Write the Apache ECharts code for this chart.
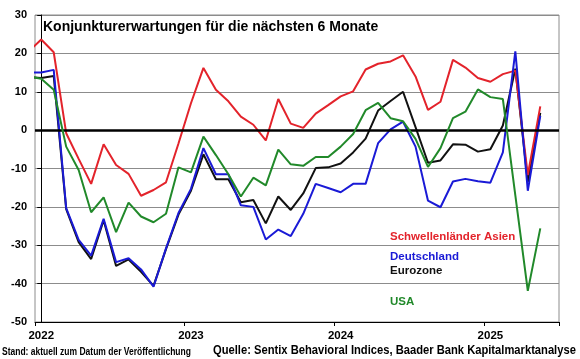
<!DOCTYPE html>
<html>
<head>
<meta charset="utf-8">
<script src="https://cdn.jsdelivr.net/npm/echarts@6/dist/echarts.min.js"></script>
<style>
html,body{margin:0;padding:0;background:#fff;}
#chart{width:580px;height:359px;}
</style>
</head>
<body>
<div id="chart"></div>
<script>
// Survey months of the data (first one lies before the axis start and is clipped)
const months = [
  '2021-12',
  '2022-01','2022-02','2022-03','2022-04','2022-05','2022-06','2022-07','2022-08','2022-09','2022-10','2022-11','2022-12',
  '2023-01','2023-02','2023-03','2023-04','2023-05','2023-06','2023-07','2023-08','2023-09','2023-10','2023-11','2023-12',
  '2024-01','2024-02','2024-03','2024-04','2024-05','2024-06','2024-07','2024-08','2024-09','2024-10','2024-11','2024-12',
  '2025-01','2025-02','2025-03','2025-04','2025-05'
];
// Month slots shown on the axis
const axisMonths = [
  '2022-01','2022-02','2022-03','2022-04','2022-05','2022-06','2022-07','2022-08','2022-09','2022-10','2022-11','2022-12',
  '2023-01','2023-02','2023-03','2023-04','2023-05','2023-06','2023-07','2023-08','2023-09','2023-10','2023-11','2023-12',
  '2024-01','2024-02','2024-03','2024-04','2024-05','2024-06','2024-07','2024-08','2024-09','2024-10','2024-11','2024-12',
  '2025-01','2025-02','2025-03','2025-04','2025-05','2025-06'
];
const yTicks = [-50,-40,-30,-20,-10,0,10,20,30];

const schwellenlaenderAsien = [20.5,
  23.6,20.3,-0.8,-7.5,-14.0,-3.7,-9.1,-11.4,-17.1,-15.6,-13.6,-3.5,
  7.0,16.2,10.5,7.5,3.5,1.4,-2.7,8.1,1.7,0.6,4.3,6.5,
  8.8,10.1,15.8,17.3,17.9,19.5,14.0,5.3,7.4,18.3,16.3,13.6,
  12.6,14.6,15.5,-11.7,6.2];
const deutschland = [15.0,
  15.0,15.7,-20.3,-28.6,-32.7,-23.1,-34.4,-33.4,-36.3,-40.8,-30.8,-21.6,
  -15.3,-4.7,-11.5,-11.5,-19.6,-20.0,-28.5,-25.9,-27.6,-21.8,-14.0,-15.1,
  -16.2,-14.0,-14.0,-3.4,0.2,2.2,-4.3,-18.4,-20.1,-13.4,-12.7,-13.3,
  -13.7,-5.8,20.5,-15.8,3.7];
const eurozone = [13.8,
  13.6,14.1,-20.6,-29.2,-33.6,-23.5,-35.4,-33.7,-36.9,-40.6,-31.0,-22.0,
  -15.8,-6.3,-12.8,-12.8,-18.8,-18.2,-24.3,-17.3,-20.8,-16.5,-9.9,-9.7,
  -8.7,-5.8,-2.2,5.1,7.6,10.0,0.8,-8.5,-7.9,-3.7,-3.8,-5.6,
  -5.0,1.2,16.0,-13.5,4.5];
const usa = [14.0,
  13.4,10.5,-4.3,-10.4,-21.4,-17.5,-26.6,-18.9,-22.5,-24.0,-21.8,-9.7,
  -11.0,-1.7,-6.5,-11.5,-17.3,-12.4,-14.4,-5.1,-8.9,-9.3,-7.0,-7.0,
  -4.3,-1.0,5.2,7.1,3.1,2.3,-2.3,-9.6,-4.7,3.1,4.8,10.6,
  8.6,8.1,-17.0,-41.9,-25.6];

// month string -> slot index on the axis (Jan 2022 = 0)
function slot(m){ const y = +m.slice(0,4), mo = +m.slice(5,7); return (y-2022)*12 + (mo-1); }
function pairs(vals){ return months.map((m,k)=>[slot(m), vals[k]]); }

const FONT = 'Liberation Sans, Arial, sans-serif';
const chart = echarts.init(document.getElementById('chart'), null, {renderer:'canvas'});

function lineSeries(name, vals, color, z){
  return {
    name, type:'line', data: pairs(vals), xAxisIndex:0, yAxisIndex:0,
    showSymbol:false, symbol:'none', clip:true, z,
    lineStyle:{color, width:2}, itemStyle:{color}
  };
}

const series = [
  lineSeries('Eurozone', eurozone, '#111111', 2),
  lineSeries('Schwellenländer Asien', schwellenlaenderAsien, '#e3232b', 3),
  lineSeries('Deutschland', deutschland, '#1a1ad6', 4),
  lineSeries('USA', usa, '#21892a', 5),
  {
    type:'line', data:[], xAxisIndex:0, yAxisIndex:0, z:8,
    markLine:{silent:true, symbol:['none','none'], animation:false,
      label:{show:false}, lineStyle:{color:'#000', width:2.5, type:'solid'},
      data:[{yAxis:0}]}
  }
];

chart.setOption({
  animation:false,
  backgroundColor:'#fff',
  grid:{left:35, right:21, top:15, bottom:37, show:true, borderColor:'#8c8c8c', borderWidth:1},
  xAxis:[
    {type:'value', min:-0.5, max:axisMonths.length-0.5, show:false},
    {type:'category', data:axisMonths, boundaryGap:true, position:'bottom',
      axisLine:{show:true, lineStyle:{color:'#000', width:1}},
      axisTick:{show:true, interval:11, length:4, lineStyle:{color:'#000'}},
      axisLabel:{interval:11, margin:8, color:'#000', fontFamily:FONT, fontWeight:'bold', fontSize:11.5,
        formatter:v=>v.slice(0,4)},
      splitLine:{show:false}}
  ],
  yAxis:{type:'value', min:yTicks[0], max:yTicks[yTicks.length-1], interval:10,
    axisLine:{show:true, lineStyle:{color:'#000', width:1}},
    axisTick:{show:true, length:4, lineStyle:{color:'#000'}},
    axisLabel:{margin:8, color:'#000', fontFamily:FONT, fontWeight:'bold', fontSize:11},
    splitLine:{show:true, lineStyle:{color:'#8c8c8c', width:1}}},
  series,
  graphic:[
    {type:'text', x:43, y:27.5, z:20, style:{text:'Konjunkturerwartungen für die nächsten 6 Monate',
      font:'bold 14px '+FONT, fill:'#000', textVerticalAlign:'middle'}},
    {type:'text', x:390, y:236.5, z:20, style:{text:'Schwellenländer Asien', font:'bold 11.5px '+FONT, fill:'#e3232b', textVerticalAlign:'middle'}},
    {type:'text', x:390, y:256.5, z:20, style:{text:'Deutschland', font:'bold 11.5px '+FONT, fill:'#1a1ad6', textVerticalAlign:'middle'}},
    {type:'text', x:390, y:270.7, z:20, style:{text:'Eurozone', font:'bold 11.5px '+FONT, fill:'#111', textVerticalAlign:'middle'}},
    {type:'text', x:390, y:302, z:20, style:{text:'USA', font:'bold 11.5px '+FONT, fill:'#21892a', textVerticalAlign:'middle'}},
    {type:'text', x:2, y:352, scaleX:0.85, z:20, style:{text:'Stand: aktuell zum Datum der Veröffentlichung', font:'bold 10px '+FONT, fill:'#000', textVerticalAlign:'middle'}},
    {type:'text', x:213, y:350, scaleX:0.86, z:20, style:{text:'Quelle: Sentix Behavioral Indices, Baader Bank Kapitalmarktanalyse', font:'bold 13px '+FONT, fill:'#000', textVerticalAlign:'middle'}}
  ]
});
</script>
</body>
</html>
